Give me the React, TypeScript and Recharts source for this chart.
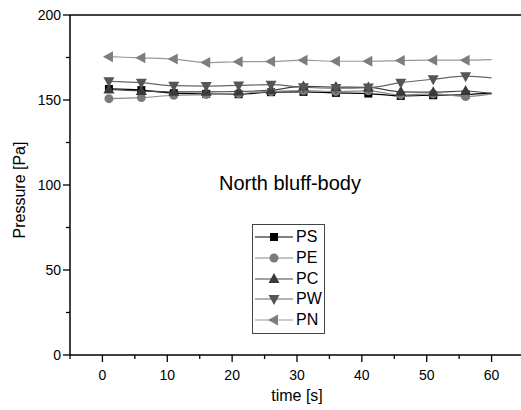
import React from 'react'
import { LineChart, Line, XAxis, YAxis, ReferenceLine, Legend } from 'recharts'

const times = [1, 6, 11, 16, 21, 26, 31, 36, 41, 46, 51, 56, 60]
const psValues = [156.5, 155.8, 154.0, 153.6, 153.4, 154.6, 154.8, 154.2, 153.8, 152.4, 152.8, 153.2, 154.0]
const peValues = [150.8, 151.4, 152.8, 153.2, 153.8, 155.0, 155.6, 155.0, 155.4, 153.0, 153.6, 152.0, 153.6]
const pcValues = [156.2, 155.3, 154.8, 154.8, 155.0, 155.8, 158.0, 157.6, 157.4, 154.8, 154.6, 155.3, 153.8]
const pwValues = [161.0, 160.2, 158.4, 158.2, 158.6, 159.0, 157.5, 157.0, 157.3, 160.2, 162.2, 164.0, 163.0]
const pnValues = [175.5, 174.8, 174.1, 172.0, 172.5, 172.6, 173.4, 172.8, 172.8, 173.2, 173.4, 173.4, 173.8]

const xTicks = [-5, 0, 5, 10, 15, 20, 25, 30, 35, 40, 45, 50, 55, 60, 65]
const yTicks = [0, 25, 50, 75, 100, 125, 150, 175, 200]
const xMajor = [0, 10, 20, 30, 40, 50, 60]
const yMajor = [0, 50, 100, 150, 200]

const data = times.map((t, i) => ({
  t,
  PS: psValues[i],
  PE: peValues[i],
  PC: pcValues[i],
  PW: pwValues[i],
  PN: pnValues[i],
}))

const FONT = '"Liberation Sans", Arial, sans-serif'

const series = [
  { key: 'PS', line: '#000000', fill: '#000000', shape: 'square' },
  { key: 'PE', line: '#8a8a8a', fill: '#7a7a7a', shape: 'circle' },
  { key: 'PC', line: '#444444', fill: '#3a3a3a', shape: 'up' },
  { key: 'PW', line: '#666666', fill: '#555555', shape: 'down' },
  { key: 'PN', line: '#999999', fill: '#7d7d7d', shape: 'left' },
]

function Marker({ cx, cy, shape, fill }: { cx: number; cy: number; shape: string; fill: string }) {
  if (shape === 'square') return <rect x={cx - 4} y={cy - 4} width={8} height={8} fill={fill} />
  if (shape === 'circle') return <circle cx={cx} cy={cy} r={4.5} fill={fill} />
  if (shape === 'up') return <polygon points={`${cx},${cy - 6} ${cx + 5.5},${cy + 4} ${cx - 5.5},${cy + 4}`} fill={fill} />
  if (shape === 'down') return <polygon points={`${cx},${cy + 6} ${cx + 5.5},${cy - 4} ${cx - 5.5},${cy - 4}`} fill={fill} />
  return <polygon points={`${cx - 6},${cy} ${cx + 4},${cy - 5.5} ${cx + 4},${cy + 5.5}`} fill={fill} />
}

const makeDot = (shape: string, fill: string) => (props: any) => {
  const { cx, cy, payload, index } = props
  if (payload.t === 60 || cx == null) return <g key={index} />
  return <Marker key={index} cx={cx} cy={cy} shape={shape} fill={fill} />
}

const XTick = (props: any) => {
  const { x, y, payload } = props
  const major = xMajor.includes(payload.value)
  return (
    <g>
      <line x1={x} y1={y} x2={x} y2={y + (major ? 7 : 4)} stroke="#000" strokeWidth={1.3} />
      {major && (
        <text x={x} y={y + 25} textAnchor="middle" fontSize={14} fontFamily={FONT} fill="#000">
          {payload.value}
        </text>
      )}
    </g>
  )
}

const YTick = (props: any) => {
  const { x, y, payload } = props
  const major = yMajor.includes(payload.value)
  return (
    <g>
      <line x1={x} y1={y} x2={x - (major ? 7 : 4)} y2={y} stroke="#000" strokeWidth={1.3} />
      {major && (
        <text x={x - 9} y={y + 5} textAnchor="end" fontSize={14} fontFamily={FONT} fill="#000">
          {payload.value}
        </text>
      )}
    </g>
  )
}

const LegendBox = () => (
  <div
    style={{
      border: '1px solid #444',
      background: '#fff',
      width: 71,
      padding: '2px 0 3px 0',
      fontFamily: FONT,
      fontSize: 16,
    }}
  >
    {series.map((s) => (
      <div key={s.key} style={{ display: 'flex', alignItems: 'center', height: 20.7 }}>
        <svg width={42} height={14} style={{ display: 'block' }}>
          <line x1={2} y1={7} x2={40} y2={7} stroke={s.line} strokeWidth={1.2} />
          <Marker cx={21} cy={7} shape={s.shape} fill={s.fill} />
        </svg>
        <span style={{ marginLeft: 1, lineHeight: '16px' }}>{s.key}</span>
      </div>
    ))}
  </div>
)

export default function App() {
  return (
    <div style={{ position: 'absolute', left: 0, top: 0, width: 521, height: 410, overflow: 'hidden', background: '#fff' }}>
      <LineChart width={530} height={410} data={data} margin={{ top: 15, right: 6, bottom: 25, left: 10 }}>
        <XAxis
          dataKey="t"
          type="number"
          domain={[-5, 65]}
          ticks={xTicks}
          interval={0}
          height={30}
          tickSize={0}
          tickMargin={0}
          tickLine={false}
          tick={<XTick />}
          axisLine={{ stroke: '#000', strokeWidth: 1.5 }}
        />
        <YAxis
          type="number"
          domain={[0, 200]}
          ticks={yTicks}
          interval={0}
          width={60}
          tickSize={0}
          tickMargin={0}
          tickLine={false}
          tick={<YTick />}
          axisLine={{ stroke: '#000', strokeWidth: 1.5 }}
        />
        <ReferenceLine y={200} stroke="#000" strokeWidth={1.5} ifOverflow="visible" />
        <Legend
          layout="vertical"
          align="center"
          verticalAlign="middle"
          wrapperStyle={{ position: 'absolute', left: 252, top: 224, width: 73 }}
          content={<LegendBox />}
        />
        {series.map((s) => (
          <Line
            key={s.key}
            dataKey={s.key}
            type="monotone"
            stroke={s.line}
            strokeWidth={1.2}
            dot={makeDot(s.shape, s.fill)}
            activeDot={false}
            isAnimationActive={false}
          />
        ))}
      </LineChart>
      <div style={{ position: 'absolute', left: 0, top: 0, width: 521, height: 410, pointerEvents: 'none', fontFamily: FONT }}>
        <div style={{ position: 'absolute', left: 190, width: 200, top: 172, textAlign: 'center', fontSize: 20 }}>
          North bluff-body
        </div>
        <div style={{ position: 'absolute', left: 197, width: 200, top: 387, textAlign: 'center', fontSize: 16 }}>
          time [s]
        </div>
        <div
          style={{
            position: 'absolute',
            left: 20,
            top: 190,
            fontSize: 16,
            whiteSpace: 'nowrap',
            transform: 'translate(-50%, -50%) rotate(-90deg)',
          }}
        >
          Pressure [Pa]
        </div>
      </div>
    </div>
  )
}
